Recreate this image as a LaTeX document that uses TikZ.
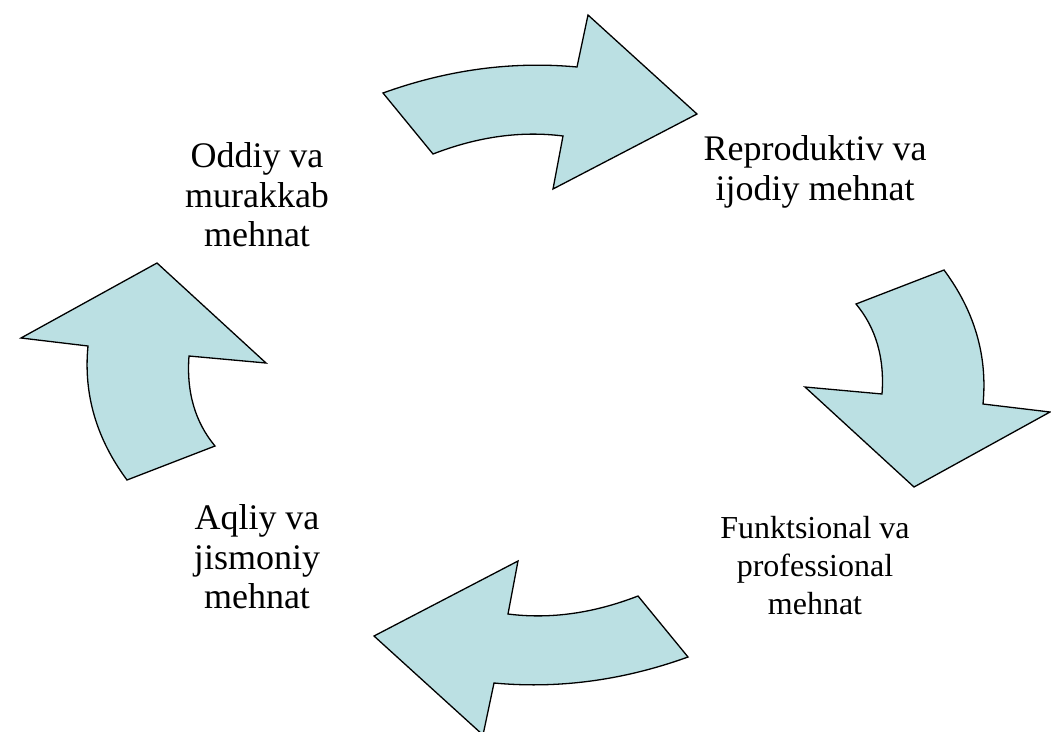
\documentclass[tikz,border=0pt]{standalone}
\usepackage{fontspec}
\setmainfont{Liberation Serif}
\usetikzlibrary{calc}
\definecolor{arrowfill}{RGB}{187,224,227}
\begin{document}
\begin{tikzpicture}[x=1pt,y=-1pt,
  bentarrow/.style={fill=arrowfill,draw=black,line width=1.3pt,line join=miter},
  biglabel/.style={align=center,inner sep=0pt,font=\fontsize{36}{39.5}\selectfont},
  smalllabel/.style={align=center,inner sep=0pt,font=\fontsize{32}{38}\selectfont}]
\useasboundingbox (0,0) rectangle (1051,731);

% curved edges are quadratic arcs, written as cubic controls at 2/3 of the way to the apex
% top arrow, pointing right
\draw[bentarrow]
  (383,93) .. controls ($(383,93)!0.6667!(480,58)$) and ($(577,67)!0.6667!(480,58)$) .. (577,67)
  -- (588,15) -- (697,114) -- (553,189) -- (563,136)
  .. controls ($(563,136)!0.6667!(500,128)$) and ($(433,154)!0.6667!(500,128)$) .. (433,154)
  -- cycle;
% bottom arrow, the same shape turned half a turn
\begin{scope}[rotate around={180:(535.5,375)}]
\draw[bentarrow]
  (383,93) .. controls ($(383,93)!0.6667!(480,58)$) and ($(577,67)!0.6667!(480,58)$) .. (577,67)
  -- (588,15) -- (697,114) -- (553,189) -- (563,136)
  .. controls ($(563,136)!0.6667!(500,128)$) and ($(433,154)!0.6667!(500,128)$) .. (433,154)
  -- cycle;
\end{scope}
% right arrow, pointing down
\draw[bentarrow]
  (856,304) -- (944,270)
  .. controls ($(944,270)!0.6667!(990,332)$) and ($(983,404)!0.6667!(990,332)$) .. (983,404)
  -- (1050,412) -- (914,487) -- (805,387) -- (882,394)
  .. controls ($(882,394)!0.6667!(886,340)$) and ($(856,304)!0.6667!(886,340)$) .. (856,304)
  -- cycle;
% left arrow, pointing up
\begin{scope}[rotate around={180:(535.5,375)}]
\draw[bentarrow]
  (856,304) -- (944,270)
  .. controls ($(944,270)!0.6667!(990,332)$) and ($(983,404)!0.6667!(990,332)$) .. (983,404)
  -- (1050,412) -- (914,487) -- (805,387) -- (882,394)
  .. controls ($(882,394)!0.6667!(886,340)$) and ($(856,304)!0.6667!(886,340)$) .. (856,304)
  -- cycle;
\end{scope}

\node[biglabel] (oddiy) at (257,195) {Oddiy va\\murakkab\\mehnat};
\node[biglabel] (repro) at (815,172) {Reproduktiv va\\ijodiy mehnat};
\node[smalllabel] (funk) at (815,566) {Funktsional va\\professional\\mehnat};
\node[biglabel] (aqliy) at (257,557) {Aqliy va\\jismoniy\\mehnat};
\end{tikzpicture}
\end{document}
